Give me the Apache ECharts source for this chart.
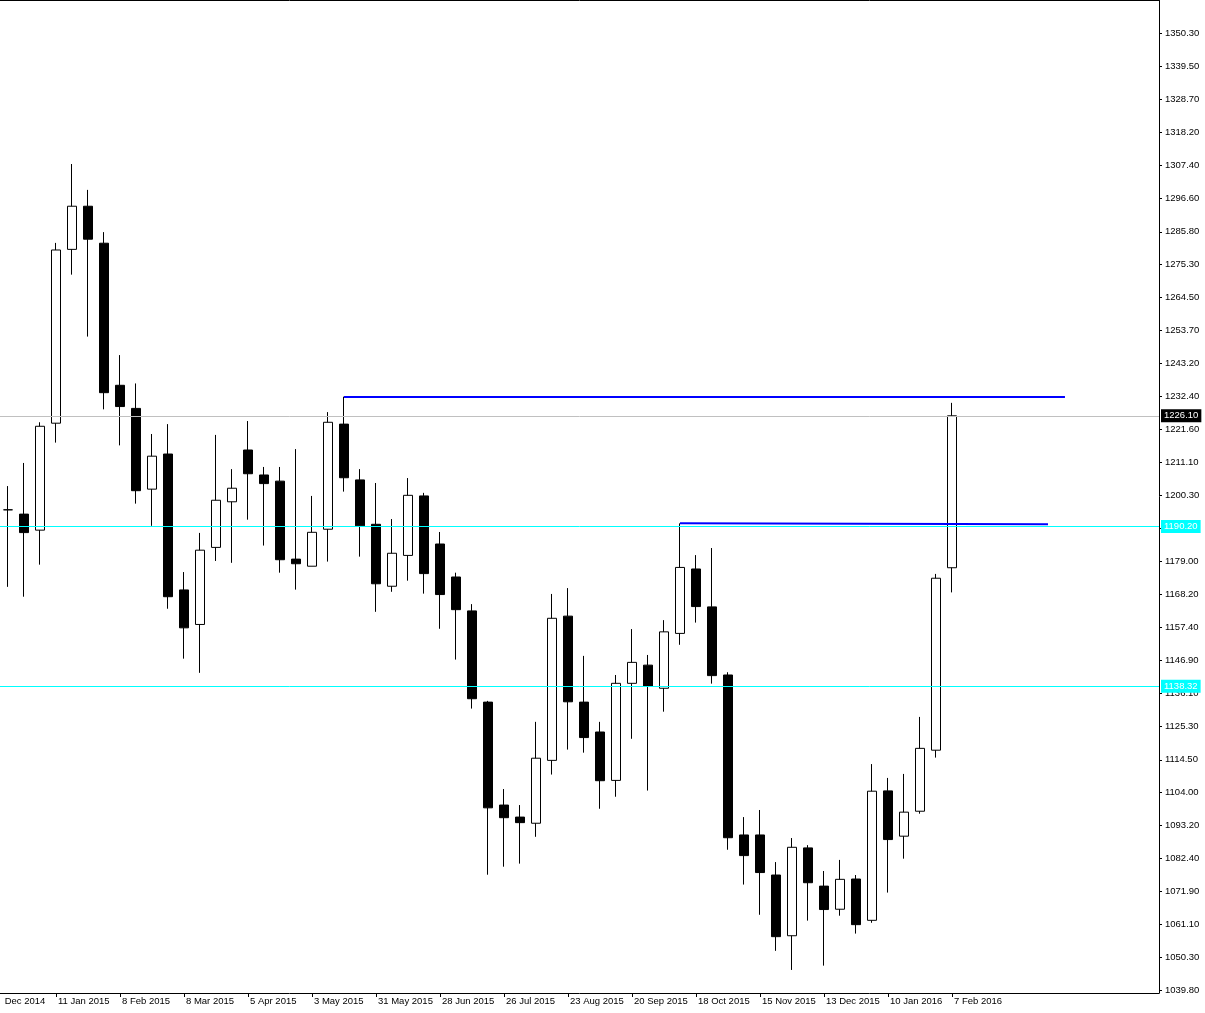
<!DOCTYPE html>
<html>
<head>
<meta charset="utf-8">
<title>Gold weekly</title>
<script src="https://cdn.jsdelivr.net/npm/echarts@6/dist/echarts.min.js"></script>
<style>
  html, body { margin: 0; padding: 0; background: #fff; }
  #chart { width: 1205px; height: 1013px; }
</style>
</head>
<body>
<div id="chart"></div>
<script>
// weekly candles, index 0 = 21 Dec 2014
const opens = [1195.6, 1194.2, 1189.0, 1223.7, 1280.1, 1294.1, 1282.1, 1236.0, 1228.5, 1202.3,
  1213.7, 1169.6, 1158.4, 1183.4, 1198.2, 1215.0, 1206.9, 1204.9, 1179.6, 1177.3,
  1189.3, 1223.4, 1205.3, 1190.9, 1170.8, 1180.8, 1200.1, 1184.5, 1173.8, 1162.8,
  1133.2, 1099.8, 1095.9, 1093.9, 1114.3, 1161.1, 1133.2, 1123.5, 1107.8, 1139.3,
  1145.2, 1137.7, 1155.5, 1176.4, 1164.1, 1142.0, 1090.1, 1090.1, 1077.1, 1057.4,
  1085.9, 1073.5, 1066.0, 1075.8, 1062.4, 1104.4, 1089.7, 1097.8, 1117.6, 1176.8];
const closes = [1195.6, 1188.2, 1222.7, 1279.9, 1294.1, 1283.4, 1233.6, 1229.1, 1201.8, 1213.0,
  1167.4, 1157.3, 1182.5, 1198.7, 1202.6, 1207.3, 1204.1, 1179.4, 1178.1, 1188.3,
  1224.0, 1206.0, 1190.4, 1171.6, 1181.5, 1200.3, 1174.9, 1168.1, 1163.2, 1134.3,
  1098.9, 1095.7, 1094.1, 1115.0, 1160.4, 1133.3, 1121.7, 1107.7, 1139.3, 1146.1,
  1138.4, 1156.0, 1176.9, 1164.2, 1141.8, 1089.2, 1083.4, 1077.9, 1057.1, 1086.1,
  1074.6, 1065.9, 1075.7, 1061.0, 1104.3, 1088.6, 1097.5, 1118.2, 1173.4, 1226.1];
const lows = [1170.6, 1167.4, 1177.8, 1217.4, 1271.9, 1251.8, 1228.2, 1216.5, 1197.6, 1190.4,
  1163.5, 1147.3, 1142.7, 1179.0, 1178.4, 1192.4, 1184.0, 1175.2, 1169.7, 1177.3,
  1178.8, 1201.5, 1180.4, 1162.5, 1169.0, 1172.6, 1168.4, 1157.0, 1147.0, 1131.1,
  1077.2, 1079.8, 1080.8, 1089.5, 1109.7, 1117.8, 1116.8, 1098.6, 1102.5, 1121.3,
  1104.5, 1130.1, 1151.8, 1159.0, 1139.2, 1085.3, 1074.0, 1064.2, 1052.5, 1046.3,
  1062.3, 1047.7, 1063.9, 1058.1, 1061.6, 1071.4, 1082.4, 1097.0, 1115.2, 1168.8];
const highs = [1203.3, 1210.8, 1224.0, 1282.2, 1307.8, 1299.4, 1285.7, 1245.8, 1236.6, 1220.2,
  1223.4, 1175.4, 1188.1, 1219.9, 1208.8, 1224.4, 1209.5, 1209.5, 1215.3, 1200.1,
  1227.3, 1232.3, 1208.8, 1204.3, 1192.6, 1205.9, 1201.1, 1188.4, 1175.2, 1165.0,
  1133.6, 1105.0, 1099.8, 1126.8, 1168.3, 1170.2, 1148.2, 1126.8, 1142.0, 1156.9,
  1148.5, 1159.8, 1191.2, 1180.9, 1183.2, 1142.9, 1095.9, 1098.2, 1081.3, 1089.1,
  1086.8, 1078.4, 1082.0, 1077.1, 1113.1, 1108.6, 1109.9, 1128.4, 1174.8, 1230.3];

// date ticks every 4 weeks; the first one (14 Dec 2014) sits just off the left edge
const dateTickIdx = [3, 7, 11, 15, 19, 23, 27, 31, 35, 39, 43, 47, 51, 55, 59];
const dateLabels = ['11 Jan 2015', '8 Feb 2015', '8 Mar 2015', '5 Apr 2015',
  '3 May 2015', '31 May 2015', '28 Jun 2015', '26 Jul 2015', '23 Aug 2015', '20 Sep 2015',
  '18 Oct 2015', '15 Nov 2015', '13 Dec 2015', '10 Jan 2016', '7 Feb 2016'];
const cutLabel = 'Dec 2014';

const priceTicks = [1350.30, 1339.50, 1328.70, 1318.20, 1307.40, 1296.60, 1285.80, 1275.30,
  1264.50, 1253.70, 1243.20, 1232.40, 1221.60, 1211.10, 1200.30, 1189.50, 1179.00, 1168.20,
  1157.40, 1146.90, 1136.10, 1125.30, 1114.50, 1104.00, 1093.20, 1082.40, 1071.90, 1061.10,
  1050.30, 1039.80];

const currentPrice = 1226.10;
const levels = [1190.20, 1138.32];
// drawn trend lines: [x1, y1, x2, y2]
const trendLines = [
  [21, 1232.3, 66.06, 1232.3],
  [42, 1191.2, 65, 1190.9]
];

const xMin = -0.5;
const xMax = 71.9375;
const fontFamily = '"Liberation Sans", Arial, sans-serif';

const candleData = opens.map((o, i) => [i, o, closes[i], lows[i], highs[i]]);

const boxLabel = (bg) => ({
  show: true,
  position: 'end',
  distance: 2,
  formatter: p => p.value.toFixed(2),
  color: '#fff',
  backgroundColor: bg,
  padding: [2, 3, 1, 3],
  fontSize: 9.5,
  fontFamily: fontFamily
});

const markData = [
  {
    yAxis: currentPrice,
    lineStyle: { color: '#c0c0c0', width: 1, type: 'solid' },
    label: boxLabel('#000')
  }
];
levels.forEach(v => {
  markData.push({
    yAxis: v,
    lineStyle: { color: '#00ffff', width: 1, type: 'solid' },
    label: boxLabel('#00ffff')
  });
});
trendLines.forEach(t => {
  markData.push([
    { coord: [t[0], t[1]], lineStyle: { color: '#0000ff', width: 2, type: 'solid' }, label: { show: false } },
    { coord: [t[2], t[3]] }
  ]);
});

const chart = echarts.init(document.getElementById('chart'));

chart.setOption({
  animation: false,
  backgroundColor: '#fff',
  grid: {
    left: 0,
    right: 46,
    top: 0.5,
    bottom: 20,
    containLabel: false,
    outerBoundsMode: 'none'
  },
  xAxis: [{
    type: 'value',
    position: 'bottom',
    min: xMin,
    max: xMax,
    axisLine: { show: true, onZero: false, lineStyle: { color: '#000', width: 1 } },
    axisTick: { show: true, customValues: dateTickIdx, length: 4, lineStyle: { color: '#000' } },
    splitLine: { show: false },
    axisLabel: {
      customValues: [xMin].concat(dateTickIdx),
      formatter: v => (v < 0 ? ' ' + cutLabel : dateLabels[dateTickIdx.indexOf(Math.round(v))] || ''),
      align: 'left',
      padding: [0, 0, 0, 2],
      margin: 3,
      color: '#000',
      fontSize: 9.5,
      fontFamily: fontFamily
    }
  }, {
    // frame line along the top edge
    type: 'value',
    position: 'top',
    min: xMin,
    max: xMax,
    axisLine: { show: true, onZero: false, lineStyle: { color: '#000', width: 1 } },
    axisTick: { show: false },
    axisLabel: { show: false },
    splitLine: { show: false }
  }],
  yAxis: {
    type: 'value',
    position: 'right',
    min: 1038.82,
    max: 1360.85,
    axisLine: { show: true, onZero: false, lineStyle: { color: '#000', width: 1 } },
    axisTick: { show: true, customValues: priceTicks, length: 3, lineStyle: { color: '#000' } },
    splitLine: { show: false },
    axisLabel: {
      customValues: priceTicks,
      formatter: v => v.toFixed(2),
      margin: 6,
      color: '#000',
      fontSize: 9.5,
      fontFamily: fontFamily
    }
  },
  series: [{
    type: 'candlestick',
    xAxisIndex: 0,
    data: candleData,
    encode: { x: 0, y: [1, 2, 3, 4] },
    barWidth: 10,
    itemStyle: {
      color: '#fff',
      color0: '#000',
      borderColor: '#000',
      borderColor0: '#000',
      borderColorDoji: '#000',
      borderWidth: 1
    },
    markLine: {
      silent: true,
      symbol: ['none', 'none'],
      animation: false,
      precision: 2,
      data: markData
    }
  }]
});
</script>
</body>
</html>
